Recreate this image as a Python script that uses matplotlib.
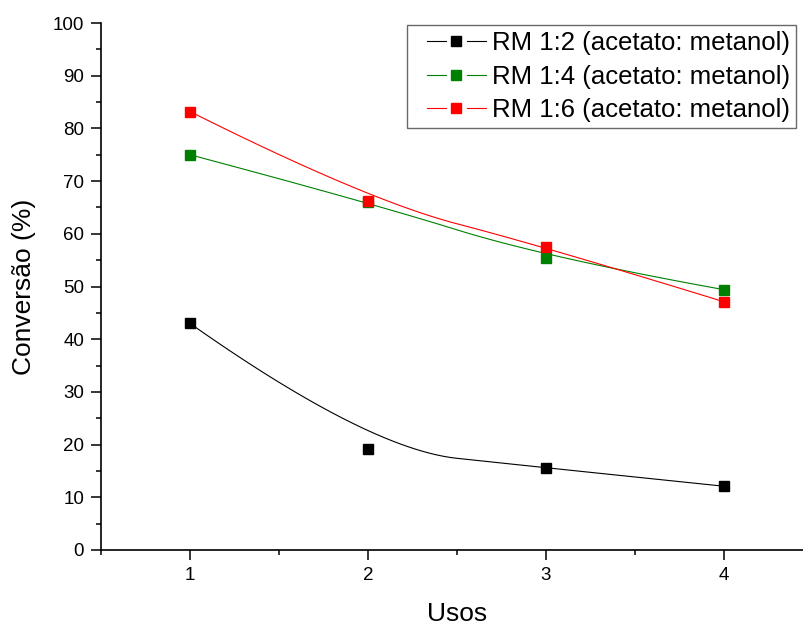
import numpy as np
import matplotlib.pyplot as plt
from matplotlib.ticker import MultipleLocator
from matplotlib.lines import Line2D
from matplotlib.legend_handler import HandlerBase

# Dados
usos = [1, 2, 3, 4]

rm_12 = [43.0, 19.2, 15.6, 12.1]
rm_14 = [75.0, 66.0, 55.5, 49.4]
rm_16 = [83.2, 66.3, 57.5, 47.1]

rotulos = [
    "RM 1:2 (acetato: metanol)",
    "RM 1:4 (acetato: metanol)",
    "RM 1:6 (acetato: metanol)",
]
cores = ["black", "#008000", "#ff0000"]


def bspline_quadratica(x, y, n=60):
    # B-spline quadrática (tipo Origin): passa só pelos extremos
    p = np.column_stack([x, y]).astype(float)
    meios = (p[1:-1][:-1] + p[1:-1][1:]) / 2
    inicio = [p[0]] + list(meios)
    fim = list(meios) + [p[-1]]
    t = np.linspace(0, 1, n)[:, None]
    partes = []
    for a, c, b in zip(inicio, p[1:-1], fim):
        partes.append((1 - t) ** 2 * a + 2 * t * (1 - t) * c + t ** 2 * b)
    curva = np.vstack(partes)
    return curva[:, 0], curva[:, 1]


class HandlerOrigin(HandlerBase):
    # linha — marcador — linha, com espaços dos dois lados do marcador
    def create_artists(self, legend, orig_handle, xdescent, ydescent,
                       width, height, fontsize, trans):
        y = height / 2 - ydescent
        x0 = -xdescent
        cor = orig_handle.get_color()
        esq = Line2D([x0 + width * 13 / 73, x0 + width * 32 / 73], [y, y],
                     color=cor, linewidth=0.8, transform=trans)
        dir_ = Line2D([x0 + width * 52 / 73, x0 + width * 71 / 73], [y, y],
                      color=cor, linewidth=0.8, transform=trans)
        mark = Line2D([x0 + width * 42 / 73], [y], linestyle="none", marker="s",
                      markersize=orig_handle.get_markersize(), color=cor,
                      transform=trans)
        return [esq, dir_, mark]


plt.rcParams["font.family"] = ["Liberation Sans", "DejaVu Sans"]

fig = plt.figure(figsize=(8.04, 6.28), dpi=100)
ax = fig.add_axes([101 / 804, 78 / 628, 712 / 804, 527 / 628])

for serie, rotulo, cor in zip([rm_12, rm_14, rm_16], rotulos, cores):
    xs, ys = bspline_quadratica(usos, serie)
    ax.plot(xs, ys, color=cor, linewidth=0.8)
    ax.plot(usos, serie, linestyle="none", marker="s", markersize=7.5, color=cor)
    # entrada da legenda
    ax.plot([], [], color=cor, linewidth=0.8, marker="s", markersize=7.0, label=rotulo)

ax.set_xlim(0.5, 4.5)
ax.set_ylim(0, 100)
ax.xaxis.set_major_locator(MultipleLocator(1))
ax.xaxis.set_minor_locator(MultipleLocator(0.5))
ax.yaxis.set_major_locator(MultipleLocator(10))
ax.yaxis.set_minor_locator(MultipleLocator(5))

ax.spines["top"].set_visible(False)
ax.spines["right"].set_visible(False)
ax.spines["left"].set_linewidth(1.2)
ax.spines["bottom"].set_linewidth(1.2)
ax.tick_params(which="major", direction="out", length=7.2, width=1.1, labelsize=13.5, pad=5)
ax.tick_params(which="minor", direction="out", length=3.6, width=1.1)

ax.set_xlabel("Usos", fontsize=19, labelpad=13)
ax.set_ylabel("Conversão (%)", fontsize=19, labelpad=12)

leg = ax.legend(loc="upper left", bbox_to_anchor=((407 - 101) / 712, (550 - 25) / 527),
                borderaxespad=0, fontsize=18.5, frameon=True, fancybox=False,
                handler_map={Line2D: HandlerOrigin()},
                handlelength=2.9, handletextpad=0.15, labelspacing=0.36, borderpad=0.25)
leg.get_frame().set_edgecolor("#444444")
leg.get_frame().set_linewidth(1.0)

fig.savefig("out.png", dpi=100)
